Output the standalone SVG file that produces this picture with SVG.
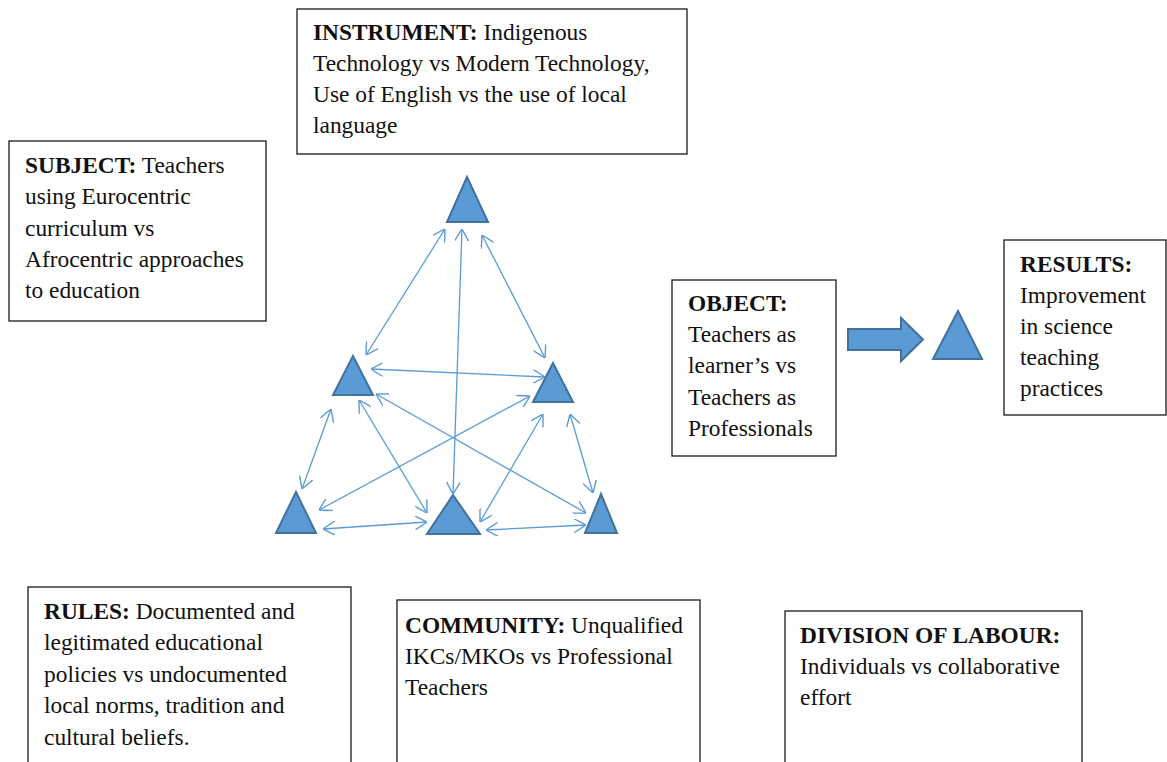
<svg xmlns="http://www.w3.org/2000/svg" width="1167" height="762" viewBox="0 0 1167 762">
<style>
.box{fill:#fff;stroke:#1a1a1a;stroke-width:1.3}
.t{font-family:"Liberation Serif","Times New Roman",serif;font-size:23.4px;fill:#111}
.b{font-weight:bold}
.tri{fill:#5B9BD5;stroke:#41719C;stroke-width:2;stroke-linejoin:miter}
.con{stroke:#5B9BD5;stroke-width:1.3;fill:none;marker-start:url(#ah);marker-end:url(#ah)}
</style>
<defs>
<marker id="ah" viewBox="0 0 12 14" refX="12" refY="7" markerWidth="12" markerHeight="14" markerUnits="userSpaceOnUse" orient="auto-start-reverse">
<path d="M0,0 L12,7 L0,14" fill="none" stroke="#5B9BD5" stroke-width="1.4"/>
</marker>
</defs>
<rect width="1167" height="762" fill="#fff"/>

<g id="instrument">
<rect class="box" x="297" y="9" width="390" height="145"/>
<text class="t" x="313" y="40"><tspan class="b">INSTRUMENT:</tspan> Indigenous</text>
<text class="t" x="313" y="71">Technology vs Modern Technology,</text>
<text class="t" x="313" y="102">Use of English vs the use of local</text>
<text class="t" x="313" y="133">language</text>
</g>

<g id="subject">
<rect class="box" x="9" y="141" width="257" height="180"/>
<text class="t" x="25" y="173"><tspan class="b">SUBJECT:</tspan> Teachers</text>
<text class="t" x="25" y="204">using Eurocentric</text>
<text class="t" x="25" y="236">curriculum vs</text>
<text class="t" x="25" y="267">Afrocentric approaches</text>
<text class="t" x="25" y="298">to education</text>
</g>

<g id="object">
<rect class="box" x="672" y="280" width="164" height="176"/>
<text class="t" x="688" y="311"><tspan class="b">OBJECT:</tspan></text>
<text class="t" x="688" y="342">Teachers as</text>
<text class="t" x="688" y="373">learner’s vs</text>
<text class="t" x="688" y="405">Teachers as</text>
<text class="t" x="688" y="436">Professionals</text>
</g>

<g id="results">
<rect class="box" x="1004" y="240" width="162" height="175"/>
<text class="t" x="1020" y="272"><tspan class="b">RESULTS:</tspan></text>
<text class="t" x="1020" y="303">Improvement</text>
<text class="t" x="1020" y="334">in science</text>
<text class="t" x="1020" y="365">teaching</text>
<text class="t" x="1020" y="396">practices</text>
</g>

<g id="rules">
<rect class="box" x="28" y="587" width="323" height="190"/>
<text class="t" x="44" y="619"><tspan class="b">RULES:</tspan> Documented and</text>
<text class="t" x="44" y="650">legitimated educational</text>
<text class="t" x="44" y="682">policies vs undocumented</text>
<text class="t" x="44" y="713">local norms, tradition and</text>
<text class="t" x="44" y="745">cultural beliefs.</text>
</g>

<g id="community">
<rect class="box" x="397" y="600" width="303" height="180"/>
<text class="t" x="405" y="633"><tspan class="b">COMMUNITY:</tspan> Unqualified</text>
<text class="t" x="405" y="664">IKCs/MKOs vs Professional</text>
<text class="t" x="405" y="695">Teachers</text>
</g>

<g id="division">
<rect class="box" x="785" y="611" width="297" height="170"/>
<text class="t" x="800" y="643"><tspan class="b">DIVISION OF LABOUR:</tspan></text>
<text class="t" x="800" y="674">Individuals vs collaborative</text>
<text class="t" x="800" y="705">effort</text>
</g>

<g id="tri-top"><polygon class="tri" points="467,177 488,222 447,222"/></g>
<g id="tri-left-mid"><polygon class="tri" points="353,356 373,395 333,395"/></g>
<g id="tri-right-mid"><polygon class="tri" points="553,363 573,402 533,402"/></g>
<g id="tri-bottom-left"><polygon class="tri" points="296,492 316,533 276,533"/></g>
<g id="tri-bottom-center"><polygon class="tri" points="453,495 480,534 427,534"/></g>
<g id="tri-bottom-right"><polygon class="tri" points="601,494 617,533 585,533"/></g>
<g id="tri-results"><polygon class="tri" points="958,311 982,359 933,359"/></g>
<g id="block-arrow"><polygon class="tri" points="848,329 901,329 901,318 923,339.5 901,361 901,350 848,350"/></g>

<g id="connectors">
<line class="con" x1="445" y1="229" x2="366" y2="355"/>
<line class="con" x1="462" y1="229" x2="453" y2="494"/>
<line class="con" x1="482" y1="235" x2="545" y2="358"/>
<line class="con" x1="371" y1="369" x2="545" y2="377"/>
<line class="con" x1="359" y1="400" x2="427" y2="513"/>
<line class="con" x1="376" y1="394" x2="586" y2="513"/>
<line class="con" x1="530" y1="396" x2="319" y2="510"/>
<line class="con" x1="543" y1="414" x2="480" y2="522"/>
<line class="con" x1="570" y1="414" x2="593" y2="493"/>
<line class="con" x1="331" y1="409" x2="302" y2="489"/>
<line class="con" x1="323" y1="529" x2="427" y2="522"/>
<line class="con" x1="486" y1="530" x2="586" y2="525"/>
</g>
</svg>
